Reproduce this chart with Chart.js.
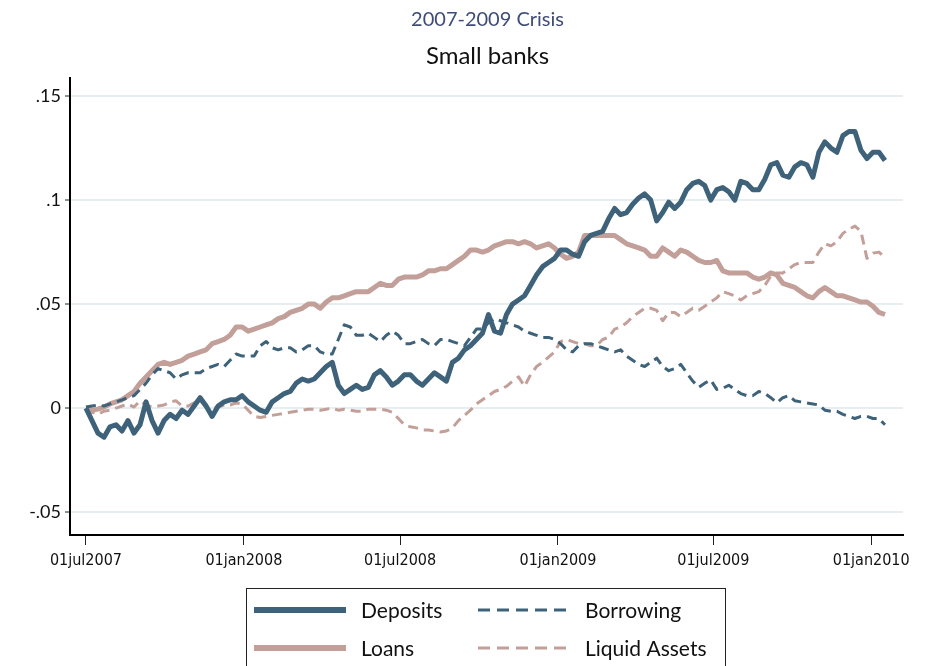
<!DOCTYPE html>
<html>
<head>
<meta charset="utf-8">
<script src="https://cdn.jsdelivr.net/npm/chart.js@4.4.1/dist/chart.umd.min.js"></script>
<style>
  html, body { margin: 0; padding: 0; background: #fff; }
  canvas { display: block; }
</style>
</head>
<body>
<canvas id="crisisChart" width="926" height="666"></canvas>
<script>
// ---------- data (weekly, starting 01jul2007) ----------
const titleTop = '2007-2009 Crisis';
const titleMain = 'Small banks';

const seriesNames = ['Deposits', 'Borrowing', 'Loans', 'Liquid Assets'];

const deposits = [
  0, -0.006, -0.012, -0.014, -0.009, -0.008, -0.011, -0.006, -0.012, -0.008,
  0.003, -0.006, -0.012, -0.006, -0.003, -0.005, -0.001, -0.003, 0.001, 0.005,
  0.001, -0.004, 0.001, 0.003, 0.004, 0.004, 0.006, 0.003, 0.001, -0.001,
  -0.002, 0.003, 0.005, 0.007, 0.008, 0.012, 0.014, 0.013, 0.014, 0.017,
  0.020, 0.022, 0.011, 0.007, 0.009, 0.011, 0.009, 0.010, 0.016, 0.018,
  0.015, 0.011, 0.013, 0.016, 0.016, 0.013, 0.011, 0.014, 0.017, 0.015,
  0.013, 0.022, 0.024, 0.028, 0.030, 0.033, 0.036, 0.045, 0.037, 0.036,
  0.045, 0.050, 0.052, 0.054, 0.059, 0.064, 0.068, 0.070, 0.072, 0.076,
  0.076, 0.074, 0.073, 0.080, 0.083, 0.084, 0.085, 0.091, 0.096, 0.093,
  0.094, 0.098, 0.101, 0.103, 0.100, 0.090, 0.094, 0.099, 0.096, 0.099,
  0.105, 0.108, 0.109, 0.107, 0.100, 0.105, 0.106, 0.104, 0.100, 0.109,
  0.108, 0.105, 0.105, 0.110, 0.117, 0.118, 0.112, 0.111, 0.116, 0.118,
  0.117, 0.111, 0.123, 0.128, 0.125, 0.123, 0.131, 0.133, 0.133, 0.124,
  0.120, 0.123, 0.123, 0.119
];

const loans = [
  0, -0.001, -0.0005, 0.0005, 0.002, 0.003, 0.004, 0.006, 0.008, 0.012,
  0.015, 0.018, 0.021, 0.022, 0.021, 0.022, 0.023, 0.025, 0.026, 0.027,
  0.028, 0.031, 0.032, 0.033, 0.035, 0.039, 0.039, 0.037, 0.038, 0.039,
  0.040, 0.041, 0.043, 0.044, 0.046, 0.047, 0.048, 0.050, 0.050, 0.048,
  0.051, 0.053, 0.053, 0.054, 0.055, 0.056, 0.056, 0.056, 0.058, 0.060,
  0.059, 0.059, 0.062, 0.063, 0.063, 0.063, 0.064, 0.066, 0.066, 0.067,
  0.067, 0.069, 0.071, 0.073, 0.076, 0.076, 0.075, 0.076, 0.078, 0.079,
  0.080, 0.080, 0.079, 0.080, 0.079, 0.077, 0.078, 0.079, 0.077, 0.074,
  0.072, 0.073, 0.075, 0.083, 0.083, 0.083, 0.083, 0.083, 0.083, 0.081,
  0.079, 0.078, 0.077, 0.076, 0.073, 0.073, 0.077, 0.075, 0.073, 0.076,
  0.075, 0.073, 0.071, 0.070, 0.070, 0.071, 0.066, 0.065, 0.065, 0.065,
  0.065, 0.063, 0.062, 0.063, 0.065, 0.064, 0.060, 0.059, 0.058, 0.056,
  0.054, 0.053, 0.056, 0.058, 0.056, 0.054, 0.054, 0.053, 0.052, 0.051,
  0.051, 0.049, 0.046, 0.045
];

const borrowing = [
  0.0005, 0.001, 0.0015, 0.001, 0.002, 0.003, 0.004, 0.005, 0.006, 0.009,
  0.012, 0.016, 0.019, 0.018, 0.017, 0.014, 0.016, 0.017, 0.017, 0.017,
  0.019, 0.020, 0.021, 0.020, 0.023, 0.026, 0.025, 0.025, 0.025, 0.030,
  0.032, 0.029, 0.028, 0.029, 0.029, 0.027, 0.028, 0.030, 0.030, 0.027,
  0.026, 0.026, 0.033, 0.040, 0.039, 0.035, 0.035, 0.036, 0.034, 0.032,
  0.035, 0.037, 0.035, 0.031, 0.031, 0.032, 0.033, 0.031, 0.030, 0.033,
  0.033, 0.032, 0.031, 0.030, 0.034, 0.038, 0.038, 0.041, 0.043, 0.042,
  0.041, 0.040, 0.039, 0.037, 0.036, 0.035, 0.034, 0.034, 0.033, 0.031,
  0.028, 0.027, 0.030, 0.031, 0.031, 0.030, 0.029, 0.028, 0.027, 0.028,
  0.025, 0.023, 0.021, 0.020, 0.022, 0.024, 0.020, 0.018, 0.019, 0.021,
  0.017, 0.013, 0.010, 0.012, 0.0135, 0.009, 0.0095, 0.011, 0.009, 0.007,
  0.006, 0.006, 0.008, 0.007, 0.005, 0.0025, 0.005, 0.006, 0.0035, 0.003,
  0.0025, 0.002, 0.0015, -0.001, -0.0015, -0.0015, -0.003, -0.004, -0.005, -0.004,
  -0.004, -0.005, -0.005, -0.008
];

const liquidAssets = [
  0, -0.002, -0.003, -0.0015, -0.001, 0, 0.001, 0.002, 0.0005, 0.0035,
  0.0015, 0.0005, 0.001, 0.0015, 0.003, 0.0035, 0.001, 0.001, 0.0025, 0.0035,
  0.0005, 0, 0.0005, 0.0015, 0.0015, 0.0025, 0.002, -0.001, -0.004, -0.0045,
  -0.004, -0.0035, -0.003, -0.0025, -0.002, -0.0015, -0.001, -0.0005, -0.0005, -0.001,
  -0.0005, 0, -0.001, -0.0005, -0.001, -0.0015, -0.0015, -0.0005, -0.0005, -0.0005,
  -0.001, -0.002, -0.005, -0.008, -0.009, -0.0095, -0.0105, -0.0105, -0.011, -0.0115,
  -0.011, -0.0095, -0.006, -0.0035, -0.001, 0.002, 0.004, 0.006, 0.008, 0.009,
  0.0105, 0.013, 0.015, 0.0105, 0.016, 0.020, 0.022, 0.0245, 0.027, 0.032,
  0.033, 0.032, 0.031, 0.031, 0.030, 0.030, 0.033, 0.034, 0.038, 0.039,
  0.041, 0.044, 0.046, 0.048, 0.048, 0.047, 0.042, 0.046, 0.046, 0.044,
  0.046, 0.048, 0.047, 0.049, 0.051, 0.053, 0.056, 0.055, 0.054, 0.052,
  0.054, 0.055, 0.056, 0.059, 0.0635, 0.065, 0.065, 0.067, 0.069, 0.070,
  0.070, 0.070, 0.075, 0.079, 0.078, 0.080, 0.084, 0.086, 0.0875, 0.085,
  0.072, 0.0745, 0.075, 0.0725
];

// x axis: days since 01jul2007
const xTickDays   = [0, 184, 366, 550, 731, 915];
const xTickLabels = ['01jul2007', '01jan2008', '01jul2008', '01jan2009', '01jul2009', '01jan2010'];
const yTickValues = [-0.05, 0, 0.05, 0.1, 0.15];
const yTickLabels = ['-.05', '0', '.05', '.1', '.15'];

// ---------- styles ----------
const BLUE = '#3e6279';
const PINK = '#c29f98';
const NARROW = '"Liberation Sans Narrow", "DejaVu Sans Condensed", sans-serif';
const TEXT = 'Lato, "Open Sans", sans-serif';

const toPoints = arr => arr.map((v, i) => ({ x: i * 7, y: v }));

const datasets = [
  { label: seriesNames[0], data: toPoints(deposits),     borderColor: BLUE, borderWidth: 5, borderDash: [] },
  { label: seriesNames[1], data: toPoints(borrowing),    borderColor: BLUE, borderWidth: 3, borderDash: [10, 6] },
  { label: seriesNames[2], data: toPoints(loans),        borderColor: PINK, borderWidth: 5, borderDash: [] },
  { label: seriesNames[3], data: toPoints(liquidAssets), borderColor: PINK, borderWidth: 3, borderDash: [10, 6] }
];

// ---------- titles + boxed legend ----------
const decorations = {
  id: 'decorations',
  afterDraw(chart) {
    const ctx = chart.ctx;
    const area = chart.chartArea;
    const cx = (area.left + area.right) / 2;
    ctx.save();
    ctx.textAlign = 'center';
    ctx.textBaseline = 'middle';
    ctx.fillStyle = '#3f4c78';
    ctx.font = '20px ' + TEXT;
    ctx.fillText(titleTop, cx + 1, 20);
    ctx.fillStyle = '#111';
    ctx.font = '24px ' + TEXT;
    ctx.fillText(titleMain, cx + 1, 56);

    // legend box
    ctx.strokeStyle = '#222';
    ctx.lineWidth = 1;
    ctx.strokeRect(246.5, 588.5, 479, 100);

    const slots = [
      { ds: 0, x: 254, y: 610 },
      { ds: 1, x: 478, y: 610 },
      { ds: 2, x: 254, y: 648 },
      { ds: 3, x: 478, y: 648 }
    ];
    ctx.textAlign = 'left';
    ctx.font = '21px ' + TEXT;
    slots.forEach(s => {
      const d = chart.data.datasets[s.ds];
      ctx.beginPath();
      ctx.setLineDash(d.borderDash.length ? [12, 7] : []);
      ctx.lineWidth = d.borderDash.length ? 3 : 6;
      ctx.strokeStyle = d.borderColor;
      ctx.moveTo(s.x, s.y);
      ctx.lineTo(s.x + 92, s.y);
      ctx.stroke();
      ctx.setLineDash([]);
      ctx.fillStyle = '#111';
      ctx.fillText(d.label, s.x + 107, s.y + 1);
    });
    ctx.restore();
  }
};

new Chart(document.getElementById('crisisChart'), {
  type: 'line',
  data: { datasets },
  plugins: [decorations],
  options: {
    responsive: false,
    animation: false,
    layout: { padding: { top: 78, right: 23, left: 0, bottom: 0 } },
    elements: {
      point: { radius: 0 },
      line: { tension: 0, borderJoinStyle: 'round', borderCapStyle: 'butt' }
    },
    plugins: {
      legend: { display: false },
      title: { display: false },
      tooltip: { enabled: false }
    },
    scales: {
      x: {
        type: 'linear',
        min: -18.6,
        max: 952,
        afterFit(scale) { scale.height = 131; },
        afterBuildTicks(scale) { scale.ticks = xTickDays.map(v => ({ value: v })); },
        ticks: {
          autoSkip: false,
          maxRotation: 0,
          padding: 6,
          color: '#111',
          font: { family: NARROW, size: 16 },
          callback: (v) => xTickLabels[xTickDays.indexOf(v)]
        },
        grid: { drawOnChartArea: false, drawTicks: true, tickLength: 10, color: '#222', lineWidth: 1 },
        border: { display: true, color: '#000', width: 2 }
      },
      y: {
        min: -0.061,
        max: 0.1587,
        afterFit(scale) { scale.width = 70; },
        afterBuildTicks(scale) { scale.ticks = yTickValues.map(v => ({ value: v })); },
        ticks: {
          padding: 4,
          color: '#111',
          font: { family: TEXT, size: 18 },
          callback: (v) => yTickLabels[yTickValues.findIndex(t => Math.abs(t - v) < 1e-9)]
        },
        grid: { color: '#e6eef1', lineWidth: 2, drawTicks: true, tickLength: 5, tickColor: '#222', tickWidth: 1 },
        border: { display: true, color: '#000', width: 2 }
      }
    }
  }
});
</script>
</body>
</html>
